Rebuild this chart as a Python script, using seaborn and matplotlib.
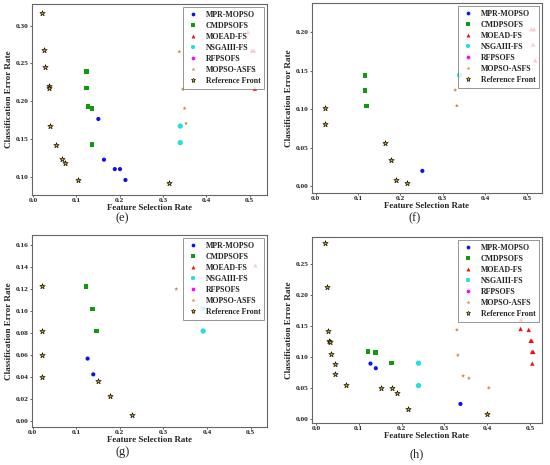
import numpy as np
import pandas as pd
import matplotlib
matplotlib.use("Agg")
import matplotlib.pyplot as plt
from matplotlib.lines import Line2D
import seaborn as sns

ALGS = ["MPR-MOPSO", "CMDPSOFS", "MOEAD-FS", "NSGAIII-FS", "RFPSOFS", "MOPSO-ASFS", "Reference Front"]

# panel (e)
e_alg = (["MPR-MOPSO"] * 5 + ["CMDPSOFS"] * 5 + ["MOEAD-FS"] * 5 + ["NSGAIII-FS"] * 2
         + ["MOPSO-ASFS"] * 4 + ["Reference Front"] * 11)
e_x = [0.151, 0.164, 0.189, 0.201, 0.2135,
       0.124, 0.124, 0.1275, 0.136, 0.136,
       0.496, 0.505, 0.510, 0.510, 0.512,
       0.340, 0.340,
       0.338, 0.3456, 0.350, 0.3533,
       0.0207, 0.0246, 0.029, 0.037, 0.037, 0.039, 0.0545, 0.0676, 0.0745, 0.103, 0.315]
e_y = [0.1764, 0.1225, 0.110, 0.110, 0.0956,
       0.2395, 0.2174, 0.1927, 0.190, 0.1424,
       0.2916, 0.267, 0.267, 0.2413, 0.2166,
       0.167, 0.145,
       0.2656, 0.2157, 0.1905, 0.1706,
       0.3172, 0.2673, 0.2453, 0.2205, 0.2179, 0.1671, 0.1424, 0.1229, 0.1177, 0.0956, 0.0912]

# panel (f)
f_alg = (["MPR-MOPSO"] * 1 + ["CMDPSOFS"] * 3 + ["MOEAD-FS"] * 4 + ["NSGAIII-FS"] * 1
         + ["MOPSO-ASFS"] * 2 + ["Reference Front"] * 6)
f_x = [0.252,
       0.1166, 0.1166, 0.1205,
       0.510, 0.516, 0.514, 0.519,
       0.340,
       0.3297, 0.3336,
       0.0218, 0.0218, 0.164, 0.178, 0.190, 0.2146]
f_y = [0.020,
       0.1442, 0.1242, 0.1041,
       0.204, 0.204, 0.184, 0.1634,
       0.1442,
       0.125, 0.1046,
       0.102, 0.0815, 0.0565, 0.0344, 0.0078, 0.0039]

# panel (g)
g_alg = (["MPR-MOPSO"] * 2 + ["CMDPSOFS"] * 3 + ["MOEAD-FS"] * 1 + ["NSGAIII-FS"] * 2
         + ["MOPSO-ASFS"] * 1 + ["Reference Front"] * 7)
g_x = [0.126, 0.139,
       0.122, 0.137, 0.147,
       0.511,
       0.391, 0.391,
       0.3295,
       0.0206, 0.0206, 0.0206, 0.022, 0.151, 0.177, 0.228]
g_y = [0.057, 0.0427,
       0.1224, 0.1021, 0.082,
       0.1415,
       0.082, 0.1024,
       0.120,
       0.1224, 0.0821, 0.060, 0.040, 0.0367, 0.0227, 0.006]

# panel (h)
h_alg = (["MPR-MOPSO"] * 3 + ["CMDPSOFS"] * 3 + ["MOEAD-FS"] * 8 + ["NSGAIII-FS"] * 2
         + ["MOPSO-ASFS"] * 5 + ["Reference Front"] * 14)
h_x = [0.1275, 0.140, 0.3376,
       0.122, 0.139, 0.1768,
       0.4795, 0.478, 0.497, 0.5015, 0.504, 0.505, 0.5076, 0.5053,
       0.2397, 0.2397,
       0.3293, 0.3316, 0.3437, 0.3574, 0.4036,
       0.0212, 0.025, 0.0273, 0.031, 0.033, 0.035, 0.044, 0.0455, 0.0706, 0.1525, 0.1768,
       0.1897, 0.2147, 0.4006]
h_y = [0.0892, 0.0817, 0.0242,
       0.1086, 0.1070, 0.0903,
       0.1602, 0.145, 0.1435, 0.1258, 0.1258, 0.108, 0.108, 0.0892,
       0.0898, 0.0538,
       0.1435, 0.1027, 0.0694, 0.0656, 0.050,
       0.2839, 0.2124, 0.1409, 0.126, 0.124, 0.1054, 0.0887, 0.072, 0.0548, 0.0495, 0.0495,
       0.042, 0.016, 0.0086]

panel_labels = ["(e)", "(f)", "(g)", "(h)"]

# style per algorithm: marker, colour, size, edge colour
style = {
    "MPR-MOPSO": ("o", "#1010ee", 9, "none"),
    "CMDPSOFS": ("s", "#109a10", 11, "none"),
    "MOEAD-FS": ("^", "#ee1010", 10, "none"),
    "NSGAIII-FS": ("8", "#20e0e0", 16, "none"),
    "RFPSOFS": ("o", "#ee10ee", 9, "none"),
    "MOPSO-ASFS": ("*", "#cd853f", 10, "none"),
    "Reference Front": ("*", "#e6b000", 16, "black"),
}

sns.set_style("white")
plt.rcParams["font.family"] = ["Liberation Serif", "DejaVu Serif"]
plt.rcParams["font.weight"] = "bold"

fig = plt.figure(figsize=(5.5, 4.65), dpi=100)
W, H = 550.0, 465.0
# axes boxes in pixel coords: left, top, right, bottom
boxes = [(32, 4, 267, 195), (312, 3, 542, 193), (32, 235, 267, 427), (312, 237, 542, 423)]
xlims = [(-0.002, 0.54), (-0.009, 0.535), (-0.0015, 0.5375), (-0.009, 0.528)]
ylims = [(0.0757, 0.3287), (-0.0087, 0.238), (-0.005, 0.169), (-0.0065, 0.293)]
yticks = [np.arange(0.10, 0.31, 0.05), np.arange(0.0, 0.21, 0.05),
          np.arange(0.0, 0.161, 0.02), np.arange(0.0, 0.26, 0.05)]
caption_pos = [(122, 218), (415, 218), (123, 452), (417, 454)]

panels = [(e_x, e_y, e_alg), (f_x, f_y, f_alg), (g_x, g_y, g_alg), (h_x, h_y, h_alg)]

for i, (px, py, palg) in enumerate(panels):
    l, t, r, b = boxes[i]
    ax = fig.add_axes([l / W, 1 - b / H, (r - l) / W, (b - t) / H])
    df = pd.DataFrame({"x": px, "y": py, "alg": palg})
    for a in ALGS:
        sub = df[df["alg"] == a]
        if len(sub) == 0:
            continue
        m, c, s, ec = style[a]
        sns.scatterplot(data=sub, x="x", y="y", marker=m, color=c, s=s,
                        edgecolor=ec, linewidth=0.45 if ec != "none" else 0, ax=ax, zorder=3)
    ax.set_xlim(*xlims[i])
    ax.set_ylim(*ylims[i])
    ax.set_xticks(np.arange(0.0, 0.51, 0.1))
    ax.set_xticklabels([f"{v:.1f}" for v in np.arange(0.0, 0.51, 0.1)])
    ax.set_yticks(yticks[i])
    ax.set_yticklabels([f"{v:.2f}" for v in yticks[i]])
    ax.tick_params(labelsize=5.3, length=1.5, width=0.5, pad=1, direction="out",
                   bottom=True, left=True)
    for sp in ax.spines.values():
        sp.set_color("#666666")
        sp.set_linewidth(0.8)
    ax.set_xlabel("Feature Selection Rate", fontsize=6.4, fontweight="bold", labelpad=0.5)
    ax.set_ylabel("Classification Error Rate", fontsize=6.6, fontweight="bold", labelpad=2)

    handles = []
    for a in ALGS:
        m, c, s, ec = style[a]
        handles.append(Line2D([], [], linestyle="none", marker=m, color=c,
                              markersize=np.sqrt(s) * 0.9, markeredgecolor=ec if ec != "none" else c,
                              markeredgewidth=0.45 if ec != "none" else 0, label=a))
    leg = ax.legend(handles=handles, loc="upper right", fontsize=5.7, frameon=True,
                    fancybox=False, framealpha=0.8, edgecolor="#666666",
                    borderaxespad=0.35, handletextpad=0.9, labelspacing=0.38,
                    borderpad=0.5, handlelength=1.4)
    leg.get_frame().set_linewidth(0.6)
    leg.set_zorder(5)

    cx, cy = caption_pos[i]
    fig.text(cx / W, 1 - cy / H, panel_labels[i], fontsize=9, fontweight="normal",
             ha="center", va="center")

fig.savefig("out.png", dpi=100)
